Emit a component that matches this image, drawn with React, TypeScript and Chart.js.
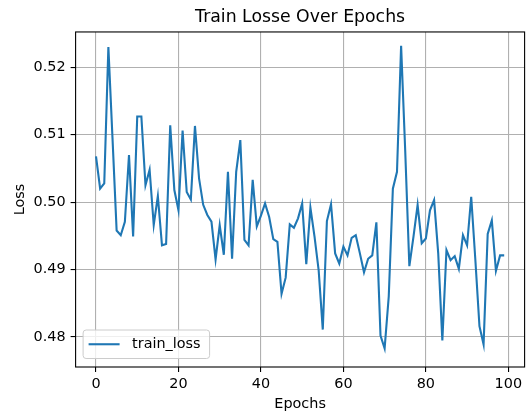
import React, { useEffect, useRef } from "react";
import { Chart, registerables } from "chart.js";

Chart.register(...registerables);

const lossValues: number[] = [
  0.5068, 0.502, 0.5028, 0.523, 0.5095, 0.4958, 0.4951, 0.4971, 0.507, 0.4949,
  0.5127, 0.5127, 0.5025, 0.5048, 0.4966, 0.5009, 0.4936, 0.4938, 0.5114, 0.5018,
  0.4988, 0.5106, 0.5015, 0.5004, 0.5113, 0.5035, 0.4996, 0.4981, 0.4971, 0.4915,
  0.4966, 0.4922, 0.5045, 0.4916, 0.5045, 0.5092, 0.4944, 0.4936, 0.5033, 0.4964,
  0.498, 0.4998, 0.4978, 0.4945, 0.4941, 0.4864, 0.4888, 0.4967, 0.4962, 0.4976,
  0.4998, 0.4908, 0.4992, 0.4949, 0.4899, 0.4811, 0.4972, 0.4997, 0.4924, 0.4909,
  0.4934, 0.4921, 0.4947, 0.4951, 0.4924, 0.4896, 0.4916, 0.4921, 0.497, 0.4802,
  0.4783, 0.486, 0.502, 0.5045, 0.5232, 0.5075, 0.4905, 0.4949, 0.4996, 0.4939,
  0.4946, 0.4988, 0.5003, 0.4924, 0.4795, 0.4929, 0.4914, 0.492, 0.4901, 0.4951,
  0.4936, 0.5008, 0.4915, 0.4816, 0.4789, 0.4953, 0.4973, 0.4898, 0.4921, 0.4921,
];
const epochs: number[] = lossValues.map((_, i) => i);

const xTicks: number[] = [0, 20, 40, 60, 80, 100];
const yTicks: number[] = [0.48, 0.49, 0.5, 0.51, 0.52];

const seriesLabel = "train_loss";
const titleText = "Train Losse Over Epochs";
const xLabel = "Epochs";
const yLabel = "Loss";

const FONT = "'DejaVu Sans', sans-serif";

const framePlugin = {
  id: "frameAndLegend",
  afterDraw(chart: any) {
    const { ctx, chartArea } = chart;
    ctx.save();
    // frame
    ctx.strokeStyle = "#000";
    ctx.lineWidth = 1.1;
    ctx.strokeRect(chartArea.left, chartArea.top, chartArea.right - chartArea.left, chartArea.bottom - chartArea.top);
    // legend
    const lx = chartArea.left + 7.5;
    const ly = chartArea.bottom - 37;
    const lw = 126.5;
    const lh = 28.5;
    ctx.beginPath();
    ctx.roundRect(lx, ly, lw, lh, 3);
    ctx.fillStyle = "rgba(255,255,255,0.8)";
    ctx.fill();
    ctx.strokeStyle = "#cccccc";
    ctx.lineWidth = 1;
    ctx.stroke();
    const cy = ly + lh / 2;
    ctx.beginPath();
    ctx.moveTo(lx + 5.5, cy);
    ctx.lineTo(lx + 36.5, cy);
    ctx.strokeStyle = "#1f77b4";
    ctx.lineWidth = 2.1;
    ctx.stroke();
    ctx.fillStyle = "#000";
    ctx.font = `14.4px ${FONT}`;
    ctx.textBaseline = "middle";
    ctx.textAlign = "left";
    ctx.fillText(seriesLabel, lx + 49, cy);
    ctx.restore();
  },
};

export default function App() {
  const ref = useRef<HTMLCanvasElement | null>(null);
  useEffect(() => {
    if (!ref.current) return;
    Chart.defaults.color = "#000";
    const chart = new Chart(ref.current, {
      type: "line",
      data: {
        datasets: [
          {
            label: seriesLabel,
            data: epochs.map((e, i) => ({ x: e, y: lossValues[i] })),
            borderColor: "#1f77b4",
            backgroundColor: "#1f77b4",
            borderWidth: 2.1,
            pointRadius: 0,
            tension: 0,
            fill: false,
          },
        ],
      },
      options: {
        responsive: false,
        animation: false,
        devicePixelRatio: 1,
        layout: { padding: { left: 0, right: 3.4, top: 0, bottom: 0 } },
        plugins: {
          legend: { display: false },
          tooltip: { enabled: false },
          title: {
            display: true,
            fullSize: false,
            text: titleText,
            color: "#000",
            font: { family: FONT, size: 17.3, weight: "normal" },
            padding: { top: 7, bottom: 4.2 },
          },
        },
        scales: {
          x: {
            type: "linear",
            min: -4.95,
            max: 103.95,
            afterBuildTicks: (scale: any) => {
              scale.ticks = xTicks.map((v) => ({ value: v }));
            },
            afterFit: (scale: any) => {
              scale.height = 47;
            },
            ticks: {
              font: { family: FONT, size: 14.4 },
              color: "#000",
              padding: 4,
              maxRotation: 0,
              autoSkip: false,
              callback: (v: any) => String(v),
            },
            grid: {
              color: "#b0b0b0",
              lineWidth: 1.1,
              tickLength: 5,
              tickColor: "#000",
              tickWidth: 1.1,
              drawTicks: true,
            },
            border: { display: false },
            title: {
              display: true,
              text: xLabel,
              color: "#000",
              font: { family: FONT, size: 14.4 },
              padding: { top: 0, bottom: 1 },
            },
          },
          y: {
            type: "linear",
            min: 0.47555,
            max: 0.52524,
            afterBuildTicks: (scale: any) => {
              scale.ticks = yTicks.map((v) => ({ value: v }));
            },
            afterFit: (scale: any) => {
              scale.width = 75.6;
            },
            ticks: {
              font: { family: FONT, size: 14.4 },
              color: "#000",
              padding: 5,
              autoSkip: false,
              callback: (v: any) => Number(v).toFixed(2),
            },
            grid: {
              color: "#b0b0b0",
              lineWidth: 1.1,
              tickLength: 5,
              tickColor: "#000",
              tickWidth: 1.1,
              drawTicks: true,
            },
            border: { display: false },
            title: {
              display: true,
              text: yLabel,
              color: "#000",
              font: { family: FONT, size: 14.4 },
              padding: { top: 12, bottom: 0 },
            },
          },
        },
      },
      plugins: [framePlugin],
    });
    return () => chart.destroy();
  }, []);
  return (
    <div style={{ position: "absolute", left: 0, top: 0, width: 528, height: 414, background: "#fff" }}>
      <canvas ref={ref} width={528} height={414} style={{ width: 528, height: 414, display: "block" }} />
    </div>
  );
}
